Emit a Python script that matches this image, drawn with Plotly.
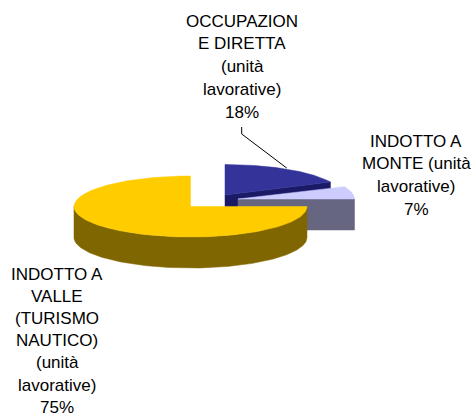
import numpy as np
import plotly.graph_objects as go

values = [18, 7, 75]
line_groups = [
    ["OCCUPAZION", "E DIRETTA", "(unità", "lavorative)"],
    ["INDOTTO A", "MONTE (unità", "lavorative)"],
    ["INDOTTO A", "VALLE", "(TURISMO", "NAUTICO)", "(unità", "lavorative)"],
]
top_colors = ["#333399", "#CCCCFF", "#FFCC00"]
side_colors = ["#1A1A66", "#666680", "#806600"]
centers = [(225, 195), (238, 199), (190.5, 206.5)]
RX, RY, DEPTH = 116.5, 30.5, 31
label_pos = [(242, 21), (416, 141), (57, 274)]
line_heights = [22.8, 22.8, 22.2]
FONT = 17

fracs = np.array(values) / sum(values) * 360
ends = 90 - np.concatenate([[0], np.cumsum(fracs)])
spans = [(ends[i], ends[i + 1]) for i in range(3)]

fig = go.Figure()

def ell(c, a):
    r = np.radians(a)
    return c[0] + RX * np.cos(r), c[1] - RY * np.sin(r)

def poly(xs, ys, color):
    fig.add_trace(go.Scatter(x=list(xs), y=list(ys), mode="lines", fill="toself",
                             fillcolor=color, line=dict(color=color, width=0.5),
                             hoverinfo="skip", showlegend=False))

def top(i):
    c = centers[i]
    a = np.linspace(spans[i][0], spans[i][1], 120)
    x, y = ell(c, a)
    poly(np.r_[c[0], x, c[0]], np.r_[c[1], y, c[1]], top_colors[i])

def cut(i, angle):
    c = centers[i]
    ex, ey = ell(c, angle)
    poly([c[0], ex, ex, c[0], c[0]], [c[1], ey, ey + DEPTH, c[1] + DEPTH, c[1]], side_colors[i])

# back to front
cut(0, spans[0][1])
top(0)
cut(1, spans[1][1])
top(1)

# front rim of the large slice
c = centers[2]
a = np.linspace(180, 360, 160)
x, y = ell(c, a)
poly(np.r_[x, x[::-1], x[0]], np.r_[y, y[::-1] + DEPTH, y[0]], side_colors[2])
top(2)

# leader line of the first label
fig.add_shape(type="path", path="M 241.7 127 L 241.7 134 L 286.7 168",
              line=dict(color="#000000", width=1), xref="x", yref="y")

for i, lines in enumerate(line_groups):
    lx, ly = label_pos[i]
    for j, t in enumerate(lines + [f"{values[i]}%"]):
        fig.add_annotation(x=lx, y=ly + j * line_heights[i], text=t, showarrow=False, xref="x", yref="y",
                           xanchor="center", yanchor="middle",
                           font=dict(family="Liberation Sans", size=FONT, color="#000000"))

fig.update_layout(
    width=474, height=418, margin=dict(l=0, r=0, t=0, b=0),
    paper_bgcolor="#FFFFFF", plot_bgcolor="#FFFFFF", showlegend=False,
    xaxis=dict(range=[0, 474], visible=False, fixedrange=True),
    yaxis=dict(range=[418, 0], visible=False, fixedrange=True),
)
fig.write_html("out.html", config={"displayModeBar": False}, default_width="474px", default_height="418px",
               post_script="document.body.style.margin='0';document.body.style.overflow='hidden';")
